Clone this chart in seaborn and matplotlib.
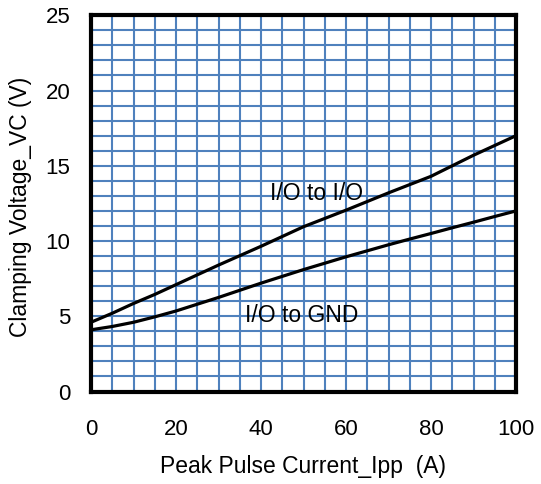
import numpy as np
import pandas as pd
import seaborn as sns
import matplotlib
matplotlib.use("Agg")
import matplotlib.pyplot as plt
from matplotlib.ticker import MultipleLocator

# Peak pulse current (A) and clamping voltage (V) for each path
current = [0, 5, 10, 15, 20, 30, 40, 50, 60, 70, 75, 80, 85, 90, 95, 100]
vc_io_to_io = [4.6, 5.2, 5.85, 6.45, 7.1, 8.4, 9.65, 10.95, 12.05, 13.2,
               13.75, 14.3, 15.0, 15.7, 16.35, 17.0]
vc_io_to_gnd = [4.1, 4.32, 4.6, 4.96, 5.35, 6.25, 7.2, 8.1, 8.95, 9.75,
                10.13, 10.5, 10.88, 11.25, 11.63, 12.0]
series_names = ["I/O to I/O", "I/O to GND"]
x_ticks = [0, 20, 40, 60, 80, 100]
y_ticks = [0, 5, 10, 15, 20, 25]

df = pd.DataFrame({
    "Ipp": current * 2,
    "VC": vc_io_to_io + vc_io_to_gnd,
    "path": [series_names[0]] * len(current) + [series_names[1]] * len(current),
})

sns.set_style("white")
plt.rcParams["font.family"] = ["Liberation Sans", "DejaVu Sans"]
plt.rcParams["text.color"] = "black"
plt.rcParams["axes.labelcolor"] = "black"
plt.rcParams["xtick.color"] = "black"
plt.rcParams["ytick.color"] = "black"

fig = plt.figure(figsize=(5.41, 4.84), dpi=100)
ax = fig.add_axes([91 / 541, 1 - 391.5 / 484, 425 / 541, 376.2 / 484])

sns.lineplot(data=df, x="Ipp", y="VC", hue="path",
             palette={series_names[0]: "black", series_names[1]: "black"},
             linewidth=2.3, legend=False, ax=ax, zorder=3)

ax.set_xlim(0, 100)
ax.set_ylim(0, 25)
ax.set_xticks(x_ticks)
ax.set_yticks(y_ticks)
ax.xaxis.set_minor_locator(MultipleLocator(5))
ax.yaxis.set_minor_locator(MultipleLocator(1))
ax.set_axisbelow(True)
ax.grid(which="both", color="#4F81BD", linewidth=1.5)

ax.tick_params(which="both", length=0)
ax.tick_params(axis="x", labelsize=16, pad=20, labelcolor="black")
ax.tick_params(axis="y", labelsize=16, pad=15, labelcolor="black")

for s in ax.spines.values():
    s.set_color("black")
    s.set_linewidth(3)
    s.set_zorder(5)

ax.set_xlabel("Peak Pulse Current_Ipp  (A)", fontsize=16.5, va="center", color="black")
ax.xaxis.set_label_coords(0.5, (391.5 - 466) / 376)
ax.set_ylabel("Clamping Voltage_VC (V)", fontsize=16.5, va="center", color="black")
ax.yaxis.set_label_coords((21 - 91) / 425, 0.492)

ax.text(42.1, 13.16, series_names[0], fontsize=16.5, va="center", ha="left",
        color="black", zorder=4)
ax.text(36.2, 5.02, series_names[1], fontsize=16.5, va="center", ha="left",
        color="black", zorder=4)

fig.savefig("out.png", dpi=100)
